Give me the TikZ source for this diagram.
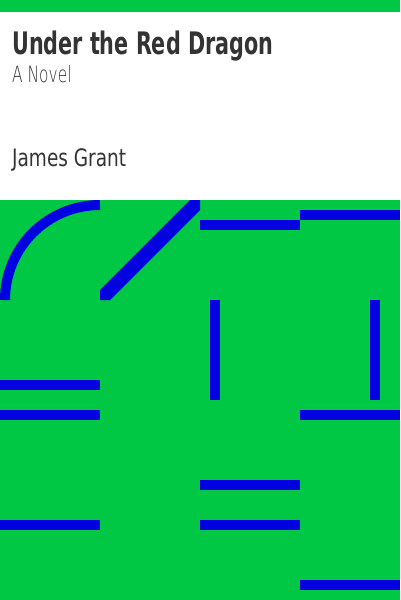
\documentclass[tikz,border=0pt]{standalone}
\usepackage{graphicx}
\usepackage{fontspec}
\newfontfamily\titlefont{DejaVu Sans Condensed}[BoldFont={DejaVu Sans Condensed Bold}]
\newfontfamily\subfont{DejaVu Sans ExtraLight}
\newfontfamily\authfont{DejaVu Sans Condensed}
\definecolor{cgreen}{RGB}{0,200,68}
\definecolor{cblue}{RGB}{0,0,224}
\definecolor{ctext}{RGB}{51,51,51}
\begin{document}
\begin{tikzpicture}[x=1pt,y=-1pt,
  bar/.style={fill=cblue},
  txt/.style={anchor=base west,inner sep=0pt,text=ctext}]
\useasboundingbox (0,0) rectangle (400,600);
\fill[cgreen] (0,0) rectangle (400,12);
\fill[white] (0,12) rectangle (400,200);
\fill[cgreen] (0,200) rectangle (400,600);
% title texts
\node[txt] (title) at (12,54.3) {\scalebox{0.743}[1]{\titlefont\bfseries\fontsize{31}{31}\selectfont Under the Red Dragon}};
\node[txt] (sub) at (12,82.3) {\scalebox{0.686}[1]{\subfont\fontsize{22.5}{22.5}\selectfont A Novel}};
\node[txt] (auth) at (12,166.5) {\scalebox{0.857}[1]{\authfont\fontsize{24}{24}\selectfont James Grant}};
% blue shapes
\draw[cblue,line width=10pt] (5,300) arc[start angle=180,end angle=270,radius=95];
\fill[cblue] (100,290) -- (190,200) -- (200,200) -- (200,210) -- (110,300) -- (100,300) -- cycle;
\fill[bar] (200,220) rectangle (300,230);
\fill[bar] (300,210) rectangle (400,220);
\fill[bar] (210,300) rectangle (220,400);
\fill[bar] (370,300) rectangle (380,400);
\fill[bar] (0,380) rectangle (100,390);
\fill[bar] (0,410) rectangle (100,420);
\fill[bar] (300,410) rectangle (400,420);
\fill[bar] (200,480) rectangle (300,490);
\fill[bar] (0,520) rectangle (100,530);
\fill[bar] (200,520) rectangle (300,530);
\fill[bar] (300,580) rectangle (400,590);
\end{tikzpicture}
\end{document}
